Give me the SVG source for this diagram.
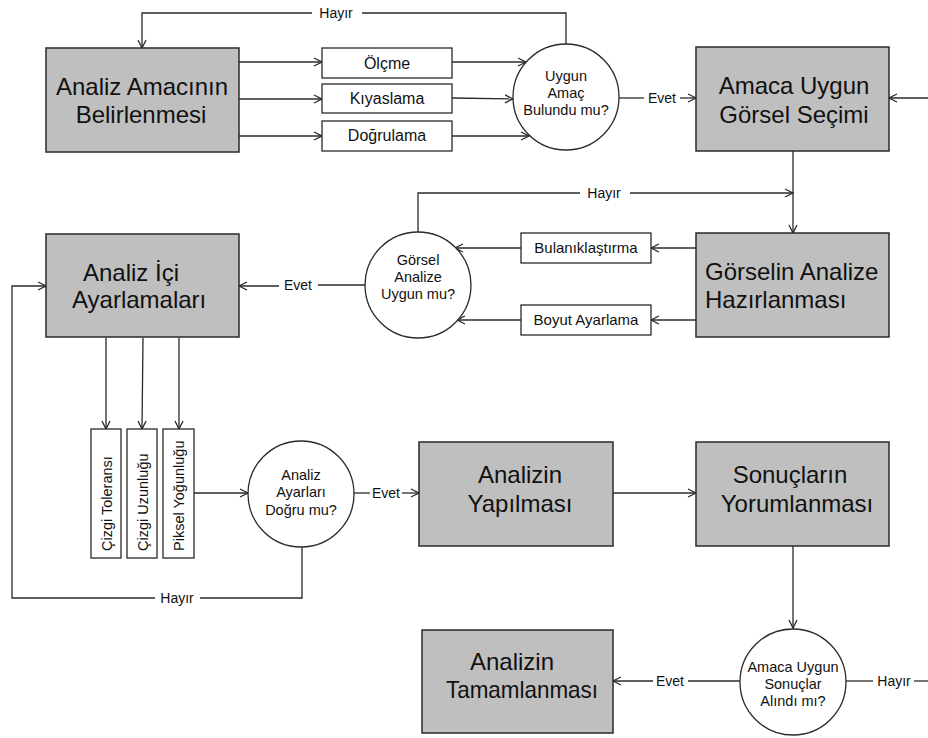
<svg xmlns="http://www.w3.org/2000/svg" width="928" height="738" viewBox="0 0 928 738">
<style>
.big{fill:#bfbfbf;stroke:#2a2a2a;stroke-width:1.5}
.sm{fill:#fff;stroke:#2a2a2a;stroke-width:1.3}
.ci{fill:#fff;stroke:#2a2a2a;stroke-width:1.3}
.bt{font-family:"Liberation Sans",Arial,sans-serif;font-size:24px;fill:#111}
.st{font-family:"Liberation Sans",Arial,sans-serif;font-size:15px;fill:#111;text-anchor:middle}
.st2{font-family:"Liberation Sans",Arial,sans-serif;font-size:16px;fill:#111;text-anchor:middle}
.ct{font-family:"Liberation Sans",Arial,sans-serif;font-size:14.5px;fill:#111;text-anchor:middle}
.vt{font-family:"Liberation Sans",Arial,sans-serif;font-size:14.5px;fill:#111}
.lb{font-family:"Liberation Sans",Arial,sans-serif;font-size:14px;fill:#111;text-anchor:middle}
.c{fill:none;stroke:#2a2a2a;stroke-width:1.3}
.a{marker-end:url(#arr)}
</style>
<defs>
<marker id="arr" markerUnits="userSpaceOnUse" markerWidth="12" markerHeight="12" refX="9" refY="5" orient="auto">
<path d="M1,1 L9,5 L1,9" fill="none" stroke="#2a2a2a" stroke-width="1.3"/>
</marker>
</defs>
<rect width="928" height="738" fill="#fff"/>

<g id="connectors">
<path class="c" d="M566,44 V13 H362"/>
<path class="c a" d="M312,13 H142 V48"/>
<path class="c a" d="M239,62 H322"/>
<path class="c a" d="M239,99 H322"/>
<path class="c a" d="M239,136 H322"/>
<path class="c a" d="M452,62 H526"/>
<path class="c a" d="M452,98 L513,99"/>
<path class="c a" d="M452,136 H529"/>
<path class="c" d="M619,98 H644"/>
<path class="c a" d="M680,98 H696"/>
<path class="c a" d="M928,98 H889"/>
<path class="c a" d="M793,151 V233"/>
<path class="c" d="M418,232 V193 H580"/>
<path class="c a" d="M630,193 H793"/>
<path class="c a" d="M696,248 H651"/>
<path class="c a" d="M696,320 H651"/>
<path class="c a" d="M521,248 H455"/>
<path class="c a" d="M521,320 H457"/>
<path class="c" d="M365,285 H318"/>
<path class="c a" d="M279,286 H239"/>
<path class="c a" d="M106,338 V429"/>
<path class="c a" d="M143,338 L142,429"/>
<path class="c a" d="M179,338 V429"/>
<path class="c a" d="M194,493 H248"/>
<path class="c" d="M354,493 H370"/>
<path class="c a" d="M402,493 H419"/>
<path class="c a" d="M613,493 H696"/>
<path class="c" d="M302,547 V598 H200"/>
<path class="c a" d="M155,598 H12 V286 H46"/>
<path class="c a" d="M793,546 V628"/>
<path class="c" d="M740,681 H688"/>
<path class="c a" d="M653,681 H613"/>
<path class="c" d="M846,681 H873"/>
<path class="c" d="M914,681 H928"/>
</g>

<g id="labels">
<text class="lb" x="336" y="18">Hayır</text>
<text class="lb" x="662" y="103">Evet</text>
<text class="lb" x="604" y="198">Hayır</text>
<text class="lb" x="298" y="290">Evet</text>
<text class="lb" x="386" y="498">Evet</text>
<text class="lb" x="177" y="603">Hayır</text>
<text class="lb" x="670" y="686">Evet</text>
<text class="lb" x="894" y="686">Hayır</text>
</g>

<g id="n-amac">
<rect class="big" x="46" y="48" width="193" height="104"/>
<text class="bt" x="142" y="95" text-anchor="middle">Analiz Amacının</text>
<text class="bt" x="141" y="123" text-anchor="middle">Belirlenmesi</text>
</g>
<g id="n-olcme">
<rect class="sm" x="322" y="48" width="130" height="30"/>
<text class="st2" x="387" y="68.5">Ölçme</text>
</g>
<g id="n-kiyas">
<rect class="sm" x="322" y="84" width="130" height="29"/>
<text class="st2" x="387" y="103.5">Kıyaslama</text>
</g>
<g id="n-dogru">
<rect class="sm" x="322" y="121" width="130" height="30"/>
<text class="st2" x="387" y="140.5">Doğrulama</text>
</g>
<g id="n-q1">
<circle class="ci" cx="566" cy="97" r="53"/>
<text class="ct" x="566" y="81">Uygun</text>
<text class="ct" x="566" y="98">Amaç</text>
<text class="ct" x="566" y="115">Bulundu mu?</text>
</g>
<g id="n-secim">
<rect class="big" x="696" y="47" width="193" height="104"/>
<text class="bt" x="794" y="94" text-anchor="middle">Amaca Uygun</text>
<text class="bt" x="794" y="123" text-anchor="middle">Görsel Seçimi</text>
</g>
<g id="n-hazir">
<rect class="big" x="696" y="233" width="193" height="104"/>
<text class="bt" x="705" y="280">Görselin Analize</text>
<text class="bt" x="705" y="308">Hazırlanması</text>
</g>
<g id="n-bulan">
<rect class="sm" x="521" y="233" width="130" height="30"/>
<text class="st" x="586" y="252.5">Bulanıklaştırma</text>
</g>
<g id="n-boyut">
<rect class="sm" x="521" y="305" width="130" height="30"/>
<text class="st" x="586" y="325">Boyut Ayarlama</text>
</g>
<g id="n-q2">
<circle class="ci" cx="418" cy="285" r="53"/>
<text class="ct" x="418" y="265">Görsel</text>
<text class="ct" x="418" y="282">Analize</text>
<text class="ct" x="418" y="299">Uygun mu?</text>
</g>
<g id="n-ayar">
<rect class="big" x="46" y="234" width="193" height="103"/>
<text class="bt" x="83" y="281">Analiz İçi</text>
<text class="bt" x="72" y="308">Ayarlamaları</text>
</g>
<g id="n-tol">
<rect class="sm" x="91" y="429" width="30" height="129"/>
<text class="vt" transform="translate(111.5,551) rotate(-90)">Çizgi Toleransı</text>
</g>
<g id="n-uzun">
<rect class="sm" x="127" y="429" width="30" height="129"/>
<text class="vt" transform="translate(147.5,551) rotate(-90)">Çizgi Uzunluğu</text>
</g>
<g id="n-piksel">
<rect class="sm" x="163" y="429" width="31" height="129"/>
<text class="vt" transform="translate(183.5,551) rotate(-90)">Piksel Yoğunluğu</text>
</g>
<g id="n-q3">
<circle class="ci" cx="301" cy="494" r="53"/>
<text class="ct" x="301" y="480">Analiz</text>
<text class="ct" x="301" y="497">Ayarları</text>
<text class="ct" x="301" y="515">Doğru mu?</text>
</g>
<g id="n-yapil">
<rect class="big" x="419" y="442" width="194" height="104"/>
<text class="bt" x="520" y="483" text-anchor="middle">Analizin</text>
<text class="bt" x="520" y="512" text-anchor="middle">Yapılması</text>
</g>
<g id="n-yorum">
<rect class="big" x="696" y="442" width="193" height="104"/>
<text class="bt" x="790" y="483" text-anchor="middle">Sonuçların</text>
<text class="bt" x="797" y="512" text-anchor="middle">Yorumlanması</text>
</g>
<g id="n-q4">
<circle class="ci" cx="793" cy="682" r="53"/>
<text class="ct" x="793" y="672">Amaca Uygun</text>
<text class="ct" x="793" y="689">Sonuçlar</text>
<text class="ct" x="793" y="706">Alındı mı?</text>
</g>
<g id="n-tamam">
<rect class="big" x="422" y="630" width="191" height="103"/>
<text class="bt" x="512" y="670" text-anchor="middle">Analizin</text>
<text class="bt" x="522" y="698" text-anchor="middle" textLength="152" lengthAdjust="spacingAndGlyphs">Tamamlanması</text>
</g>
</svg>
